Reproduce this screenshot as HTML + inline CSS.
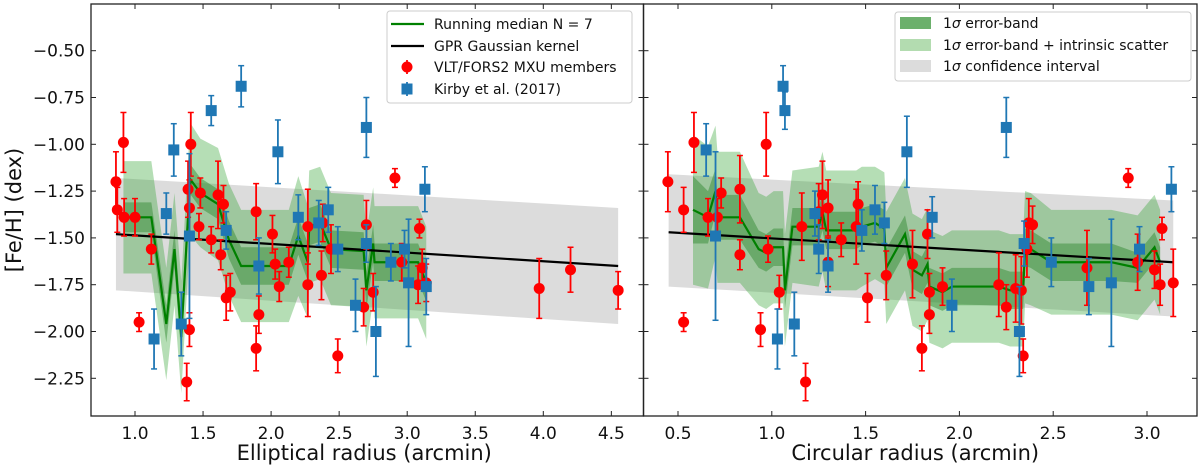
<!DOCTYPE html>
<html><head><meta charset="utf-8">
<style>
html,body{margin:0;padding:0;background:#fff;}
svg{display:block;font-family:"DejaVu Sans","Liberation Sans",sans-serif;}
</style></head>
<body>
<svg id="fig" width="1200" height="467" viewBox="0 0 1200 467" xmlns="http://www.w3.org/2000/svg"></svg>
<script>
// ---------- data: left panel (elliptical radius) ----------
const L_redX=[0.86,0.87,0.915,0.92,1.0,1.03,1.12,1.39,1.40,1.41,1.40,1.38,1.48,1.47,1.56,1.61,1.63,1.65,1.67,1.70,1.89,1.89,1.91,2.01,2.03,2.06,2.13,2.27,2.27,2.37,2.38,2.44,2.49,2.68,2.70,2.75,2.91,2.96,3.08,3.09,3.11,3.14,3.97,4.20,4.55];
const L_redY=[-1.20,-1.35,-0.99,-1.39,-1.39,-1.95,-1.56,-1.24,-1.34,-1.00,-1.99,-2.27,-1.26,-1.44,-1.51,-1.27,-1.59,-1.32,-1.82,-1.79,-1.36,-2.09,-1.91,-1.48,-1.64,-1.76,-1.63,-1.44,-1.75,-1.70,-1.42,-1.56,-2.13,-1.87,-1.43,-1.79,-1.18,-1.63,-1.75,-1.45,-1.66,-1.74,-1.77,-1.67,-1.78];
const L_redE=[0.16,0.12,0.16,0.1,0.1,0.05,0.08,0.15,0.15,0.17,0.09,0.1,0.08,0.07,0.07,0.18,0.08,0.1,0.12,0.1,0.15,0.12,0.1,0.1,0.08,0.08,0.08,0.2,0.17,0.13,0.1,0.13,0.09,0.1,0.13,0.1,0.05,0.1,0.1,0.05,0.1,0.1,0.16,0.12,0.1];
const L_bluX=[1.14,1.23,1.285,1.34,1.40,1.56,1.78,1.67,1.91,2.05,2.20,2.35,2.42,2.49,2.62,2.70,2.70,2.77,2.88,2.98,3.01,3.13,3.14];
const L_bluY=[-2.04,-1.37,-1.03,-1.96,-1.49,-0.82,-0.69,-1.46,-1.65,-1.04,-1.39,-1.42,-1.35,-1.56,-1.86,-0.91,-1.53,-2.00,-1.63,-1.56,-1.74,-1.24,-1.76];
const L_bluE=[0.16,0.11,0.14,0.17,0.44,0.08,0.11,0.1,0.15,0.17,0.12,0.12,0.12,0.12,0.14,0.16,0.1,0.24,0.1,0.1,0.34,0.12,0.15];
const L_medX=[0.915,1.12,1.23,1.29,1.34,1.40,1.41,1.48,1.61,1.69,1.78,2.13,2.20,2.27,2.28,2.36,2.44,2.68,2.70,2.75,2.76,3.08,3.14];
const L_medY=[-1.39,-1.39,-1.96,-1.56,-2.03,-1.25,-1.19,-1.26,-1.32,-1.51,-1.65,-1.65,-1.49,-1.63,-1.44,-1.42,-1.56,-1.57,-1.78,-1.53,-1.63,-1.63,-1.74];
const L_dark=[0.08,0.08,0.1,0.1,0.1,0.08,0.08,0.08,0.08,0.1,0.1,0.1,0.1,0.1,0.1,0.1,0.1,0.1,0.1,0.1,0.1,0.1,0.1];
const L_light=[0.3,0.3,0.3,0.3,0.3,0.3,0.3,0.29,0.3,0.3,0.3,0.3,0.32,0.3,0.3,0.3,0.3,0.3,0.3,0.3,0.3,0.3,0.3];
const L_gprX=[0.86,4.55];
const L_gprY=[-1.48,-1.65];
const L_ciTop=[-1.18,-1.34];
const L_ciBot=[-1.78,-1.96];
const L_xticks=[1.0,1.5,2.0,2.5,3.0,3.5,4.0,4.5];
const L_xtickLabels=["1.0","1.5","2.0","2.5","3.0","3.5","4.0","4.5"];
// ---------- data: right panel (circular radius) ----------
const R_redX=[0.446,0.53,0.53,0.585,0.66,0.71,0.73,0.83,0.83,0.94,0.97,0.98,1.04,1.18,1.16,1.25,1.27,1.30,1.30,1.37,1.45,1.46,1.51,1.61,1.75,1.83,1.84,1.84,1.80,1.91,2.21,2.25,2.30,2.33,2.34,2.36,2.37,2.39,2.68,2.90,2.95,3.04,3.08,3.07,3.14];
const R_redY=[-1.20,-1.35,-1.95,-0.99,-1.39,-1.39,-1.26,-1.24,-1.59,-1.99,-1.00,-1.56,-1.79,-2.27,-1.44,-1.36,-1.27,-1.34,-1.63,-1.51,-1.44,-1.32,-1.82,-1.70,-1.64,-1.48,-1.79,-1.91,-2.09,-1.76,-1.75,-1.87,-1.77,-1.78,-2.13,-1.56,-1.42,-1.43,-1.66,-1.18,-1.63,-1.67,-1.45,-1.75,-1.74];
const R_redE=[0.16,0.12,0.05,0.16,0.1,0.1,0.08,0.18,0.08,0.09,0.17,0.07,0.09,0.1,0.18,0.15,0.18,0.15,0.13,0.09,0.2,0.12,0.13,0.13,0.18,0.13,0.1,0.1,0.12,0.1,0.17,0.12,0.18,0.18,0.09,0.15,0.13,0.1,0.2,0.05,0.15,0.1,0.06,0.11,0.18];
const R_bluX=[0.65,0.70,1.03,1.06,1.07,1.12,1.23,1.25,1.30,1.48,1.55,1.60,1.72,1.855,1.96,2.25,2.32,2.345,2.49,2.69,2.81,2.96,3.13];
const R_bluY=[-1.03,-1.49,-2.04,-0.69,-0.82,-1.96,-1.37,-1.56,-1.65,-1.46,-1.35,-1.42,-1.04,-1.39,-1.86,-0.91,-2.00,-1.53,-1.63,-1.76,-1.74,-1.56,-1.24];
const R_bluE=[0.14,0.45,0.16,0.11,0.1,0.17,0.12,0.13,0.14,0.11,0.13,0.11,0.19,0.11,0.14,0.16,0.24,0.12,0.13,0.15,0.34,0.12,0.12];
const R_medX=[0.58,0.66,0.70,0.71,0.83,0.93,0.97,1.01,1.06,1.07,1.11,1.25,1.27,1.29,1.37,1.45,1.48,1.55,1.60,1.61,1.71,1.75,1.80,1.83,1.84,1.91,1.96,2.21,2.27,2.34,2.35,2.38,2.49,2.81,2.95,3.04,3.07];
const R_medY=[-1.35,-1.39,-1.25,-1.39,-1.39,-1.56,-1.58,-1.55,-1.55,-1.78,-1.44,-1.44,-1.36,-1.46,-1.46,-1.46,-1.44,-1.42,-1.45,-1.66,-1.48,-1.67,-1.70,-1.64,-1.76,-1.79,-1.76,-1.76,-1.78,-1.78,-1.55,-1.56,-1.63,-1.63,-1.66,-1.55,-1.63];
const R_dark=[0.18,0.14,0.12,0.12,0.12,0.1,0.1,0.1,0.1,0.1,0.1,0.1,0.1,0.1,0.1,0.1,0.1,0.1,0.1,0.1,0.1,0.1,0.1,0.1,0.1,0.1,0.1,0.1,0.1,0.1,0.1,0.1,0.1,0.1,0.08,0.08,0.08];
const R_light=[0.4,0.38,0.35,0.35,0.35,0.3,0.3,0.3,0.3,0.3,0.3,0.32,0.32,0.32,0.32,0.32,0.32,0.3,0.3,0.3,0.3,0.3,0.3,0.3,0.3,0.3,0.3,0.3,0.3,0.3,0.3,0.3,0.28,0.28,0.28,0.28,0.28];
const R_gprX=[0.45,3.14];
const R_gprY=[-1.47,-1.63];
const R_ciTop=[-1.16,-1.30];
const R_ciBot=[-1.76,-1.92];
const R_xticks=[0.5,1.0,1.5,2.0,2.5,3.0];
const R_xtickLabels=["0.5","1.0","1.5","2.0","2.5","3.0"];
const yticks=[-0.5,-0.75,-1.0,-1.25,-1.5,-1.75,-2.0,-2.25];
const ytickLabels=["\u22120.50","\u22120.75","\u22121.00","\u22121.25","\u22121.50","\u22121.75","\u22122.00","\u22122.25"];

const NS="http://www.w3.org/2000/svg";
const svg=document.getElementById('fig');
function mk(tag,attrs,parent){const e=document.createElementNS(NS,tag);for(const k in attrs)e.setAttribute(k,attrs[k]);(parent||svg).appendChild(e);return e;}
const TOP=4,BOT=416;
function yS(v){return 50.7+(-0.5-v)*187.2;}

function panel(P){
  const g=mk('g',{});
  
  
  const xS=P.xS;
  const clipId=P.name+'-clip';
  const cp=mk('clipPath',{id:clipId},g);mk('rect',{x:P.x0,y:TOP,width:P.x1-P.x0,height:BOT-TOP},cp);
  const pg=mk('g',{'clip-path':'url(#'+clipId+')'},g);
  let ci=mk('polygon',{points:`${xS(P.gprX[0])},${yS(P.ciTop[0])} ${xS(P.gprX[1])},${yS(P.ciTop[1])} ${xS(P.gprX[1])},${yS(P.ciBot[1])} ${xS(P.gprX[0])},${yS(P.ciBot[0])}`,fill:'#d6d6d6','fill-opacity':0.85},pg);
  
  
  function band(hw,fill,op,nm){
    let up=P.medX.map((x,i)=>xS(x)+','+yS(P.medY[i]+hw[i]));
    let dn=P.medX.map((x,i)=>xS(x)+','+yS(P.medY[i]-hw[i])).reverse();
    let b=mk('polygon',{points:up.concat(dn).join(' '),fill:fill,'fill-opacity':op},pg);
    
    
  }
  band(P.light,'#2ca02c',0.35,'error-band-intrinsic-scatter');
  band(P.dark,'#2a842a',0.45,'error-band');
  let med=mk('polyline',{points:P.medX.map((x,i)=>xS(x)+','+yS(P.medY[i])).join(' '),fill:'none',stroke:'#008000','stroke-width':2.2},pg);
  
  
  let gl=mk('line',{x1:xS(P.gprX[0]),y1:yS(P.gprY[0]),x2:xS(P.gprX[1]),y2:yS(P.gprY[1]),stroke:'#000','stroke-width':2.2},pg);
  
  
  function pts(X,Y,E,col,sq,nm){
    X.forEach((x,i)=>{
      const px=xS(x),py=yS(Y[i]),t=yS(Y[i]+E[i]),b=yS(Y[i]-E[i]);
      const pt=mk('g',{},pg);
      
      
      mk('line',{x1:px,y1:t,x2:px,y2:b,stroke:col,'stroke-width':1.8},pt);
      mk('line',{x1:px-3,y1:t,x2:px+3,y2:t,stroke:col,'stroke-width':1.5},pt);
      mk('line',{x1:px-3,y1:b,x2:px+3,y2:b,stroke:col,'stroke-width':1.5},pt);
      if(sq) mk('rect',{x:px-5.5,y:py-5.5,width:11,height:11,fill:col},pt);
      else mk('circle',{cx:px,cy:py,r:5.5,fill:col},pt);
    });
  }
  pts(P.redX,P.redY,P.redE,'#ff0000',false,'fors2-point');
  pts(P.bluX,P.bluY,P.bluE,'#1f77b4',true,'kirby-point');
  mk('rect',{x:P.x0,y:TOP,width:P.x1-P.x0,height:BOT-TOP,fill:'none',stroke:'#222','stroke-width':1.3},g);
  P.xticks.forEach((v,i)=>{
    const px=xS(v);
    mk('line',{x1:px,y1:BOT,x2:px,y2:BOT-5,stroke:'#222','stroke-width':1},g);
    mk('line',{x1:px,y1:TOP,x2:px,y2:TOP+5,stroke:'#222','stroke-width':1},g);
    const t=mk('text',{x:px,y:BOT+23,'text-anchor':'middle','font-size':17,fill:'#111'},g);
    t.textContent=P.xtickLabels[i];
    
    
  });
  yticks.forEach((v,i)=>{
    const py=yS(v);
    mk('line',{x1:P.x0,y1:py,x2:P.x0+5,y2:py,stroke:'#222','stroke-width':1},g);
    mk('line',{x1:P.x1,y1:py,x2:P.x1-5,y2:py,stroke:'#222','stroke-width':1},g);
    if(P.ylabels){
      const t=mk('text',{x:P.x0-6,y:py+6,'text-anchor':'end','font-size':17,fill:'#111'},g);
      t.textContent=ytickLabels[i];
      
      
    }
  });
  const xl=mk('text',{x:(P.x0+P.x1)/2+P.xlOff,y:460,'text-anchor':'middle','font-size':21,fill:'#111'},g);
  xl.textContent=P.xlabel;
  
  
}

panel({name:'elliptical-panel',x0:91,x1:643.5,xS:v=>135+(v-1)*136.1,
  redX:L_redX,redY:L_redY,redE:L_redE,bluX:L_bluX,bluY:L_bluY,bluE:L_bluE,
  medX:L_medX,medY:L_medY,dark:L_dark,light:L_light,gprX:L_gprX,gprY:L_gprY,ciTop:L_ciTop,ciBot:L_ciBot,
  xticks:L_xticks,xtickLabels:L_xtickLabels,ylabels:true,xlabel:'Elliptical radius (arcmin)',xlOff:-3});
panel({name:'circular-panel',x0:643.5,x1:1197,xS:v=>678+(v-0.5)*187.6,
  redX:R_redX,redY:R_redY,redE:R_redE,bluX:R_bluX,bluY:R_bluY,bluE:R_bluE,
  medX:R_medX,medY:R_medY,dark:R_dark,light:R_light,gprX:R_gprX,gprY:R_gprY,ciTop:R_ciTop,ciBot:R_ciBot,
  xticks:R_xticks,xtickLabels:R_xtickLabels,ylabels:false,xlabel:'Circular radius (arcmin)',xlOff:-5});

const yt=mk('text',{x:0,y:0,'text-anchor':'middle','font-size':21,fill:'#111',transform:'translate(21,210) rotate(-90)'});
yt.textContent='[Fe/H] (dex)';



const lg=mk('g',{});


mk('rect',{x:387,y:11,width:245,height:92,rx:3,fill:'#fff','fill-opacity':0.85,stroke:'#ccc'},lg);
const rowsL=[24,46,67,89];
mk('line',{x1:391,y1:rowsL[0],x2:424,y2:rowsL[0],stroke:'#008000','stroke-width':2.2},lg);
mk('line',{x1:391,y1:rowsL[1],x2:424,y2:rowsL[1],stroke:'#000','stroke-width':2.2},lg);
mk('line',{x1:407,y1:rowsL[2]-7,x2:407,y2:rowsL[2]+7,stroke:'#ff0000','stroke-width':1.8},lg);
mk('circle',{cx:407,cy:rowsL[2],r:5.5,fill:'#ff0000'},lg);
mk('line',{x1:407,y1:rowsL[3]-7,x2:407,y2:rowsL[3]+7,stroke:'#1f77b4','stroke-width':1.8},lg);
mk('rect',{x:401.5,y:rowsL[3]-5.5,width:11,height:11,fill:'#1f77b4'},lg);
['Running median N = 7','GPR Gaussian kernel','VLT/FORS2 MXU members','Kirby et al. (2017)'].forEach((s,i)=>{
  const t=mk('text',{x:434,y:rowsL[i]+5,'font-size':14,fill:'#111'},lg);
  t.textContent=s;
  
  
});
const lr=mk('g',{});


mk('rect',{x:895,y:12,width:296,height:69,rx:3,fill:'#fff','fill-opacity':0.85,stroke:'#ccc'},lr);
const rowsR=[23,45,66];
const cols=['#6cb06c','#b3dcb0','#dcdcdc'];
const labs=['error-band','error-band + intrinsic scatter','confidence interval'];
rowsR.forEach((y,i)=>{
  mk('rect',{x:900,y:y-6,width:31,height:12,fill:cols[i]},lr);
  const t=mk('text',{x:943,y:y+5,'font-size':14,fill:'#111'},lr);
  t.innerHTML='1<tspan font-style="italic">σ</tspan> '+labs[i];
  
  
});
</script>
</body></html>
